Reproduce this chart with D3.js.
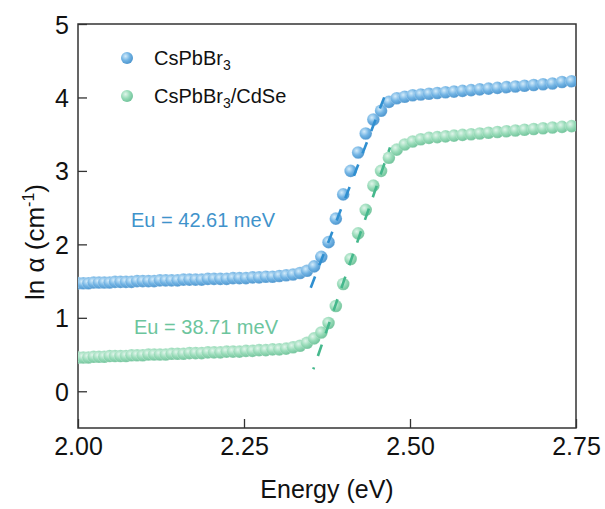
<!DOCTYPE html>
<html>
<head>
<meta charset="utf-8">
<script src="https://cdn.jsdelivr.net/npm/d3@7"></script>
<style>
  html, body { margin: 0; padding: 0; background: #fff; }
  text { font-family: "Liberation Sans", Arial, sans-serif; }
</style>
</head>
<body>
<svg id="chart" width="605" height="509"></svg>
<script>
// ---------- DATA ----------
const energy = [
  2.0000, 2.0078, 2.0156, 2.0235, 2.0315, 2.0395, 2.0476, 2.0557, 2.0639, 2.0722,
  2.0805, 2.0889, 2.0974, 2.1060, 2.1146, 2.1233, 2.1321, 2.1409, 2.1498, 2.1588,
  2.1678, 2.1770, 2.1862, 2.1955, 2.2048, 2.2143, 2.2238, 2.2334, 2.2431, 2.2529,
  2.2628, 2.2727, 2.2828, 2.2929, 2.3031, 2.3134, 2.3238, 2.3343, 2.3449, 2.3556,
  2.3664, 2.3773, 2.3883, 2.3994, 2.4106, 2.4219, 2.4333, 2.4448, 2.4564, 2.4682,
  2.4800, 2.4920, 2.5040, 2.5162, 2.5285, 2.5410, 2.5535, 2.5662, 2.5790, 2.5920,
  2.6050, 2.6182, 2.6316, 2.6451, 2.6587, 2.6724, 2.6863, 2.7003, 2.7145, 2.7289,
  2.7434
];
const lnAlphaCsPbBr3 = [
  1.47, 1.47, 1.47, 1.48, 1.48, 1.48, 1.48, 1.49, 1.49, 1.49,
  1.49, 1.50, 1.50, 1.50, 1.50, 1.51, 1.51, 1.51, 1.51, 1.52,
  1.52, 1.52, 1.52, 1.53, 1.53, 1.53, 1.53, 1.54, 1.54, 1.54,
  1.55, 1.55, 1.56, 1.56, 1.57, 1.58, 1.59, 1.61, 1.64, 1.70,
  1.83, 2.03, 2.35, 2.68, 3.00, 3.25, 3.51, 3.70, 3.82, 3.94,
  3.99, 4.01, 4.03, 4.04, 4.05, 4.06, 4.07, 4.08, 4.09, 4.10,
  4.11, 4.12, 4.13, 4.14, 4.15, 4.16, 4.17, 4.18, 4.19, 4.21,
  4.22
];
const lnAlphaCdSe = [
  0.46, 0.46, 0.46, 0.47, 0.47, 0.47, 0.48, 0.48, 0.48, 0.48,
  0.49, 0.49, 0.49, 0.50, 0.50, 0.50, 0.50, 0.51, 0.51, 0.51,
  0.52, 0.52, 0.52, 0.53, 0.53, 0.53, 0.54, 0.54, 0.54, 0.55,
  0.55, 0.56, 0.56, 0.57, 0.57, 0.58, 0.60, 0.62, 0.66, 0.72,
  0.80, 0.93, 1.16, 1.46, 1.80, 2.15, 2.47, 2.80, 3.00, 3.18,
  3.29, 3.36, 3.40, 3.43, 3.45, 3.46, 3.47, 3.48, 3.49, 3.50,
  3.51, 3.52, 3.53, 3.54, 3.55, 3.56, 3.57, 3.58, 3.59, 3.60,
  3.61
];
// Urbach fit lines (end points)
const fitEnergyCsPbBr3 = [2.3505, 2.4658];
const fitValueCsPbBr3  = [1.41, 4.11];
const fitEnergyCdSe    = [2.3544, 2.4699];
const fitValueCdSe     = [0.30, 3.32];

const xTicks = [2.00, 2.25, 2.50, 2.75];
const yTicks = [0, 1, 2, 3, 4, 5];
const seriesNames = ["CsPbBr", "CsPbBr"];
const annotations = ["Eu = 42.61 meV", "Eu = 38.71 meV"];

// ---------- CHART ----------
const svg = d3.select("#chart");
const pL = 78, pR = 576, pT = 24, pB = 428;
const x = d3.scaleLinear().domain([2, 2.75]).range([pL, pR]);
const y = d3.scaleLinear().domain([-0.5, 5]).range([pB, pT]);

const defs = svg.append("defs");
function grad(id, hi, mid, edge) {
  const g = defs.append("radialGradient").attr("id", id)
    .attr("cx", "38%").attr("cy", "35%").attr("r", "65%");
  g.append("stop").attr("offset", "0%").attr("stop-color", hi);
  g.append("stop").attr("offset", "55%").attr("stop-color", mid);
  g.append("stop").attr("offset", "100%").attr("stop-color", edge);
}
grad("gBlue", "#d3ebfa", "#72b4e4", "#4f97cf");
grad("gGreen", "#e0f5ea", "#97dbb8", "#73c49c");
defs.append("clipPath").attr("id", "plotClip")
  .append("rect").attr("x", pL).attr("y", pT)
  .attr("width", pR - pL).attr("height", pB - pT);

// axes (ticks inside)
const xAxis = d3.axisBottom(x).tickValues(xTicks).tickFormat(d3.format(".2f"))
  .tickSize(-9).tickPadding(9);
const yAxis = d3.axisLeft(y).tickValues(yTicks).tickFormat(d3.format("d"))
  .tickSize(-9).tickPadding(9);

const gx = svg.append("g").attr("transform", `translate(0,${pB})`).call(xAxis);
const gy = svg.append("g").attr("transform", `translate(${pL},0)`).call(yAxis);
[gx, gy].forEach(g => {
  g.select(".domain").remove();
  g.selectAll(".tick line").attr("stroke", "#333").attr("stroke-width", 1.3);
  g.selectAll(".tick text").attr("fill", "#111").style("font-size", "25px")
    .style("font-family", "'Liberation Sans', Arial, sans-serif");
});
gy.selectAll(".tick text").attr("dy", "0.36em");

// frame
svg.append("rect").attr("x", pL).attr("y", pT)
  .attr("width", pR - pL).attr("height", pB - pT)
  .attr("fill", "none").attr("stroke", "#333").attr("stroke-width", 1.5);

const plot = svg.append("g").attr("clip-path", "url(#plotClip)");

function drawSeries(vals, fill) {
  plot.append("g").selectAll("circle")
    .data(energy.map((e, i) => [e, vals[i]]))
    .join("circle")
    .attr("cx", d => x(d[0])).attr("cy", d => y(d[1]))
    .attr("r", 6.3)
    .attr("fill", fill)
    .attr("stroke", "rgba(255,255,255,0.35)").attr("stroke-width", 0.6);
}
drawSeries(lnAlphaCsPbBr3, "url(#gBlue)");
drawSeries(lnAlphaCdSe, "url(#gGreen)");

function drawFit(es, vs, color, offset) {
  plot.append("line")
    .attr("x1", x(es[0])).attr("y1", y(vs[0]))
    .attr("x2", x(es[1])).attr("y2", y(vs[1]))
    .attr("stroke", color).attr("stroke-width", 2.6)
    .attr("stroke-dasharray", "12,12").attr("stroke-dashoffset", offset);
}
drawFit(fitEnergyCsPbBr3, fitValueCsPbBr3, "#2f8fd0", 0);
drawFit(fitEnergyCdSe, fitValueCdSe, "#45b88c", 10);

// annotations
svg.append("text").attr("x", 131).attr("y", 227).attr("fill", "#3f93cb")
  .style("font-size", "20px").text(annotations[0]);
svg.append("text").attr("x", 134).attr("y", 334).attr("fill", "#6cc59d")
  .style("font-size", "20px").text(annotations[1]);

// legend
const leg = svg.append("g");
const legItems = [
  { fill: "url(#gBlue)", cy: 58, name: seriesNames[0], suffix: "" },
  { fill: "url(#gGreen)", cy: 96, name: seriesNames[1], suffix: "/CdSe" }
];
legItems.forEach(it => {
  leg.append("circle").attr("cx", 127).attr("cy", it.cy).attr("r", 6).attr("fill", it.fill);
  const t = leg.append("text").attr("x", 154).attr("y", it.cy + 7)
    .attr("fill", "#111").style("font-size", "20px");
  t.append("tspan").text(it.name);
  t.append("tspan").attr("dy", 5).style("font-size", "14px").text("3");
  if (it.suffix) t.append("tspan").attr("dy", -5).text(it.suffix);
});

// axis titles
svg.append("text").attr("x", (pL + pR) / 2).attr("y", 498)
  .attr("text-anchor", "middle").attr("fill", "#111").style("font-size", "25px")
  .text("Energy (eV)");
const yl = svg.append("text")
  .attr("transform", "translate(44,242) rotate(-90)")
  .attr("text-anchor", "middle").attr("fill", "#111").style("font-size", "26px");
yl.append("tspan").text("ln α (cm");
yl.append("tspan").attr("dy", -10).style("font-size", "16px").text("-1");
yl.append("tspan").attr("dy", 10).text(")");
</script>
</body>
</html>
